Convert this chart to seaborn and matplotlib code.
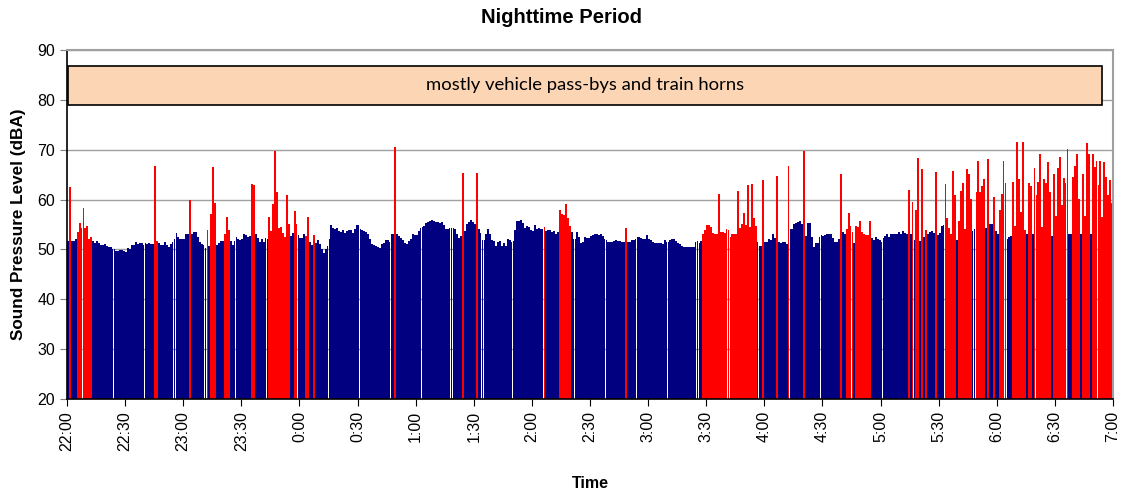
import numpy as np
import pandas as pd
import seaborn as sns
import matplotlib.pyplot as plt
from matplotlib.patches import Rectangle

# One-minute sound levels (dBA), one list per hour, 22:00 -> 6:59
h22 = [51.7, 62.5, 51.7, 51.7, 52.1, 53.5, 55.4, 54.2, 58.4, 54.2,
       54.6, 52.1, 52.5, 51.7, 51.2, 51.7, 51.2, 50.9, 50.9, 51.1,
       50.7, 50.5, 50.5, 50.0, 50.0, 49.7, 49.7, 49.8, 49.8, 49.7,
       49.5, 50.2, 50.1, 50.8, 50.8, 51.5, 51.0, 51.2, 51.2, 50.8,
       51.2, 51.0, 51.2, 51.0, 51.0, 66.8, 51.7, 51.3, 50.8, 50.8,
       51.5, 50.8, 50.5, 51.1, 51.5, 52.0, 53.2, 52.5, 52.1, 52.1]
h23 = [52.1, 53.0, 53.0, 59.9, 53.0, 53.5, 53.5, 52.5, 51.5, 51.0,
       50.8, 50.3, 53.9, 50.7, 57.1, 66.5, 59.3, 50.8, 51.3, 51.7,
       51.7, 53.1, 56.5, 53.8, 51.7, 50.8, 51.7, 52.5, 52.1, 51.8,
       52.1, 53.0, 52.9, 52.5, 52.7, 63.1, 63.0, 53.0, 52.2, 51.5,
       52.0, 51.5, 52.3, 52.1, 56.5, 53.7, 59.2, 69.8, 61.5, 54.3,
       54.5, 53.3, 52.5, 60.9, 55.2, 52.7, 53.2, 57.8, 55.1, 52.9]
h00 = [52.2, 52.2, 53.1, 52.7, 56.6, 51.5, 50.9, 52.9, 51.3, 51.8,
       51.0, 50.0, 49.3, 50.0, 50.7, 52.0, 55.0, 54.3, 54.0, 54.2,
       53.7, 53.5, 53.8, 53.3, 53.7, 53.8, 53.8, 53.3, 54.0, 55.0,
       55.0, 54.1, 53.9, 53.7, 53.5, 53.0, 52.0, 51.0, 50.8, 50.7,
       50.5, 50.3, 51.0, 51.3, 51.8, 51.8, 51.5, 53.0, 53.0, 70.5,
       53.0, 52.7, 52.3, 51.8, 51.3, 51.0, 51.7, 52.0, 53.1, 52.9]
h01 = [52.9, 53.7, 54.3, 54.4, 54.7, 55.3, 55.5, 55.8, 56.0, 55.8,
       55.5, 55.6, 55.3, 55.5, 55.0, 54.0, 54.0, 54.2, 54.3, 54.2,
       54.0, 53.1, 52.3, 52.7, 65.3, 53.7, 55.1, 55.5, 55.9, 55.5,
       55.1, 65.3, 54.0, 53.3, 51.8, 51.8, 53.1, 54.0, 53.1, 51.8,
       51.7, 50.7, 51.5, 51.7, 50.7, 51.3, 50.7, 52.1, 51.8, 51.5,
       51.7, 53.8, 55.7, 55.8, 56.0, 55.3, 54.3, 54.7, 54.5, 53.8]
h02 = [53.7, 55.0, 54.0, 54.2, 54.0, 54.0, 54.5, 53.7, 53.8, 53.8,
       53.5, 53.7, 53.0, 53.5, 58.0, 57.1, 56.9, 59.1, 56.3, 54.7,
       53.5, 52.0, 52.1, 53.5, 52.5, 51.3, 51.4, 52.5, 52.3, 52.3,
       52.7, 52.9, 53.0, 53.0, 52.9, 53.0, 52.7, 52.0, 51.8, 51.5,
       51.5, 51.5, 51.7, 51.8, 51.7, 51.7, 51.5, 51.5, 54.3, 51.5,
       51.5, 51.8, 51.8, 52.1, 52.5, 52.5, 52.2, 52.1, 52.0, 52.9]
h03 = [52.1, 51.9, 51.5, 51.3, 51.3, 51.2, 51.3, 51.0, 51.8, 51.5,
       51.5, 51.8, 52.1, 52.1, 51.7, 51.3, 51.0, 50.7, 50.5, 50.5,
       50.5, 50.5, 50.5, 50.5, 51.5, 51.7, 51.3, 51.7, 53.1, 53.8,
       54.9, 54.9, 54.5, 53.3, 53.1, 53.1, 61.1, 53.5, 53.5, 53.3,
       54.0, 53.8, 52.5, 53.0, 53.1, 53.1, 61.8, 54.3, 55.1, 57.3,
       54.9, 63.0, 54.5, 63.2, 56.3, 54.7, 51.5, 50.7, 50.7, 63.9]
h04 = [51.5, 51.4, 52.1, 51.8, 53.0, 52.2, 64.7, 51.5, 51.2, 51.5,
       51.5, 51.0, 66.8, 54.0, 54.0, 55.1, 55.3, 55.5, 55.8, 55.1,
       69.7, 52.7, 55.3, 55.3, 52.5, 50.5, 51.3, 51.3, 52.5, 52.9,
       52.7, 52.9, 53.1, 53.1, 53.1, 52.3, 51.5, 51.5, 52.0, 65.2,
       53.5, 53.1, 54.0, 57.3, 54.7, 53.5, 51.3, 54.7, 54.5, 55.8,
       53.5, 53.1, 52.9, 52.9, 55.8, 52.2, 51.8, 52.5, 52.0, 51.8]
h05 = [51.5, 52.2, 52.7, 53.0, 52.5, 53.0, 53.1, 53.1, 53.1, 53.5,
       53.1, 53.7, 53.3, 53.0, 62.0, 53.0, 59.5, 51.8, 58.0, 68.3,
       51.7, 66.2, 52.5, 53.8, 53.1, 53.5, 53.7, 53.3, 65.5, 52.9,
       53.2, 54.7, 54.9, 63.1, 56.3, 54.2, 53.1, 65.7, 60.9, 51.8,
       55.8, 61.8, 63.3, 54.0, 66.1, 65.1, 60.2, 53.7, 54.0, 61.5,
       67.8, 61.5, 62.7, 64.2, 54.3, 68.2, 55.1, 55.1, 60.5, 53.7]
h06 = [53.0, 58.0, 61.1, 67.7, 63.3, 52.0, 52.5, 52.7, 63.5, 54.7,
       71.5, 64.2, 57.5, 71.5, 53.8, 53.1, 63.3, 62.7, 53.1, 66.3,
       61.0, 63.5, 69.1, 54.5, 64.2, 63.3, 67.5, 61.5, 52.7, 65.1,
       56.7, 66.3, 68.5, 58.9, 64.3, 63.3, 70.2, 53.0, 53.0, 64.5,
       66.7, 69.1, 60.2, 53.1, 65.2, 56.7, 71.3, 69.1, 53.1, 69.1,
       66.5, 67.8, 63.0, 67.8, 56.5, 67.5, 64.5, 60.9, 64.0, 59.3]

# minutes (first, last) flagged as vehicle / train events
event_spans = [(1, 1), (5, 12), (45, 46), (63, 63), (72, 72), (74, 76),
               (81, 83), (95, 96), (104, 114), (117, 118), (123, 124),
               (127, 127), (169, 169), (204, 204), (211, 211), (246, 246),
               (254, 259), (288, 288), (328, 355), (359, 359), (366, 366),
               (372, 372), (380, 380), (399, 399), (402, 405), (407, 414),
               (434, 434), (436, 436), (438, 439), (441, 441), (443, 443),
               (448, 448), (453, 458), (460, 466), (469, 473), (475, 475),
               (478, 478), (481, 484), (488, 494), (496, 497), (499, 507),
               (509, 516), (519, 522), (524, 527), (529, 539)]

tick_labels = ["22:00", "22:30", "23:00", "23:30", "0:00", "0:30", "1:00",
               "1:30", "2:00", "2:30", "3:00", "3:30", "4:00", "4:30",
               "5:00", "5:30", "6:00", "6:30", "7:00"]

levels = h22 + h23 + h00 + h01 + h02 + h03 + h04 + h05 + h06
event = np.zeros(len(levels), dtype=bool)
for a, b in event_spans:
    event[a:b + 1] = True

df = pd.DataFrame({"minute": np.arange(len(levels)),
                   "dBA": levels,
                   "source": np.where(event, "event", "ambient")})

# Plotting
sns.set_style("white")
plt.rcParams["font.family"] = ["Liberation Sans", "DejaVu Sans"]
plt.rcParams["text.color"] = "black"
plt.rcParams["axes.labelcolor"] = "black"
plt.rcParams["xtick.color"] = "black"
plt.rcParams["ytick.color"] = "black"

fig = plt.figure(figsize=(11.23, 4.93), dpi=100)
ax = fig.add_axes([67 / 1123, 1 - 399 / 493, 1046 / 1123, 349 / 493])

sns.barplot(data=df, x="minute", y="dBA", hue="source",
            palette={"ambient": "#000080", "event": "#ff0000"},
            saturation=1, native_scale=True, dodge=False, width=0.96,
            linewidth=0, errorbar=None, legend=False, ax=ax)

ax.set_axisbelow(True)
ax.yaxis.grid(True, color="#a0a0a0", linewidth=1)
ax.set_ylim(20, 90)
ax.set_yticks(range(20, 91, 10))
ax.set_xlim(-0.5, len(levels) - 0.5)
ax.set_xticks(np.arange(len(tick_labels)) * 30 - 0.5)
ax.set_xticklabels(tick_labels, rotation=90, fontsize=11.5)
ax.tick_params(axis="y", labelsize=11.5, length=5, color="#808080", direction="out", left=True)
ax.tick_params(axis="x", length=5, color="#000000", direction="out", bottom=True)

for side in ["left", "bottom"]:
    ax.spines[side].set_color("black")
    ax.spines[side].set_linewidth(1.2)
for side in ["top", "right"]:
    ax.spines[side].set_color("#a0a0a0")
    ax.spines[side].set_linewidth(1.5)

ax.set_xlabel("Time", fontsize=11.5, fontweight="bold", labelpad=18)
ax.set_ylabel("Sound Pressure Level (dBA)", fontsize=12.3, fontweight="bold", labelpad=8)
fig.suptitle("Nighttime Period", x=0.5, y=1 - 8 / 493, va="top",
             fontsize=14.5, fontweight="bold")

# annotation band
ax.add_patch(Rectangle((0, 79), 534, 7.7, facecolor="#fcd5b4",
                       edgecolor="black", linewidth=1.2, zorder=3))
ax.text(267, 82.9, "mostly vehicle pass-bys and train horns", ha="center",
        va="center", fontsize=13.3, family=["Lato", "DejaVu Sans"], zorder=4)

plt.savefig("out.png", dpi=100)
